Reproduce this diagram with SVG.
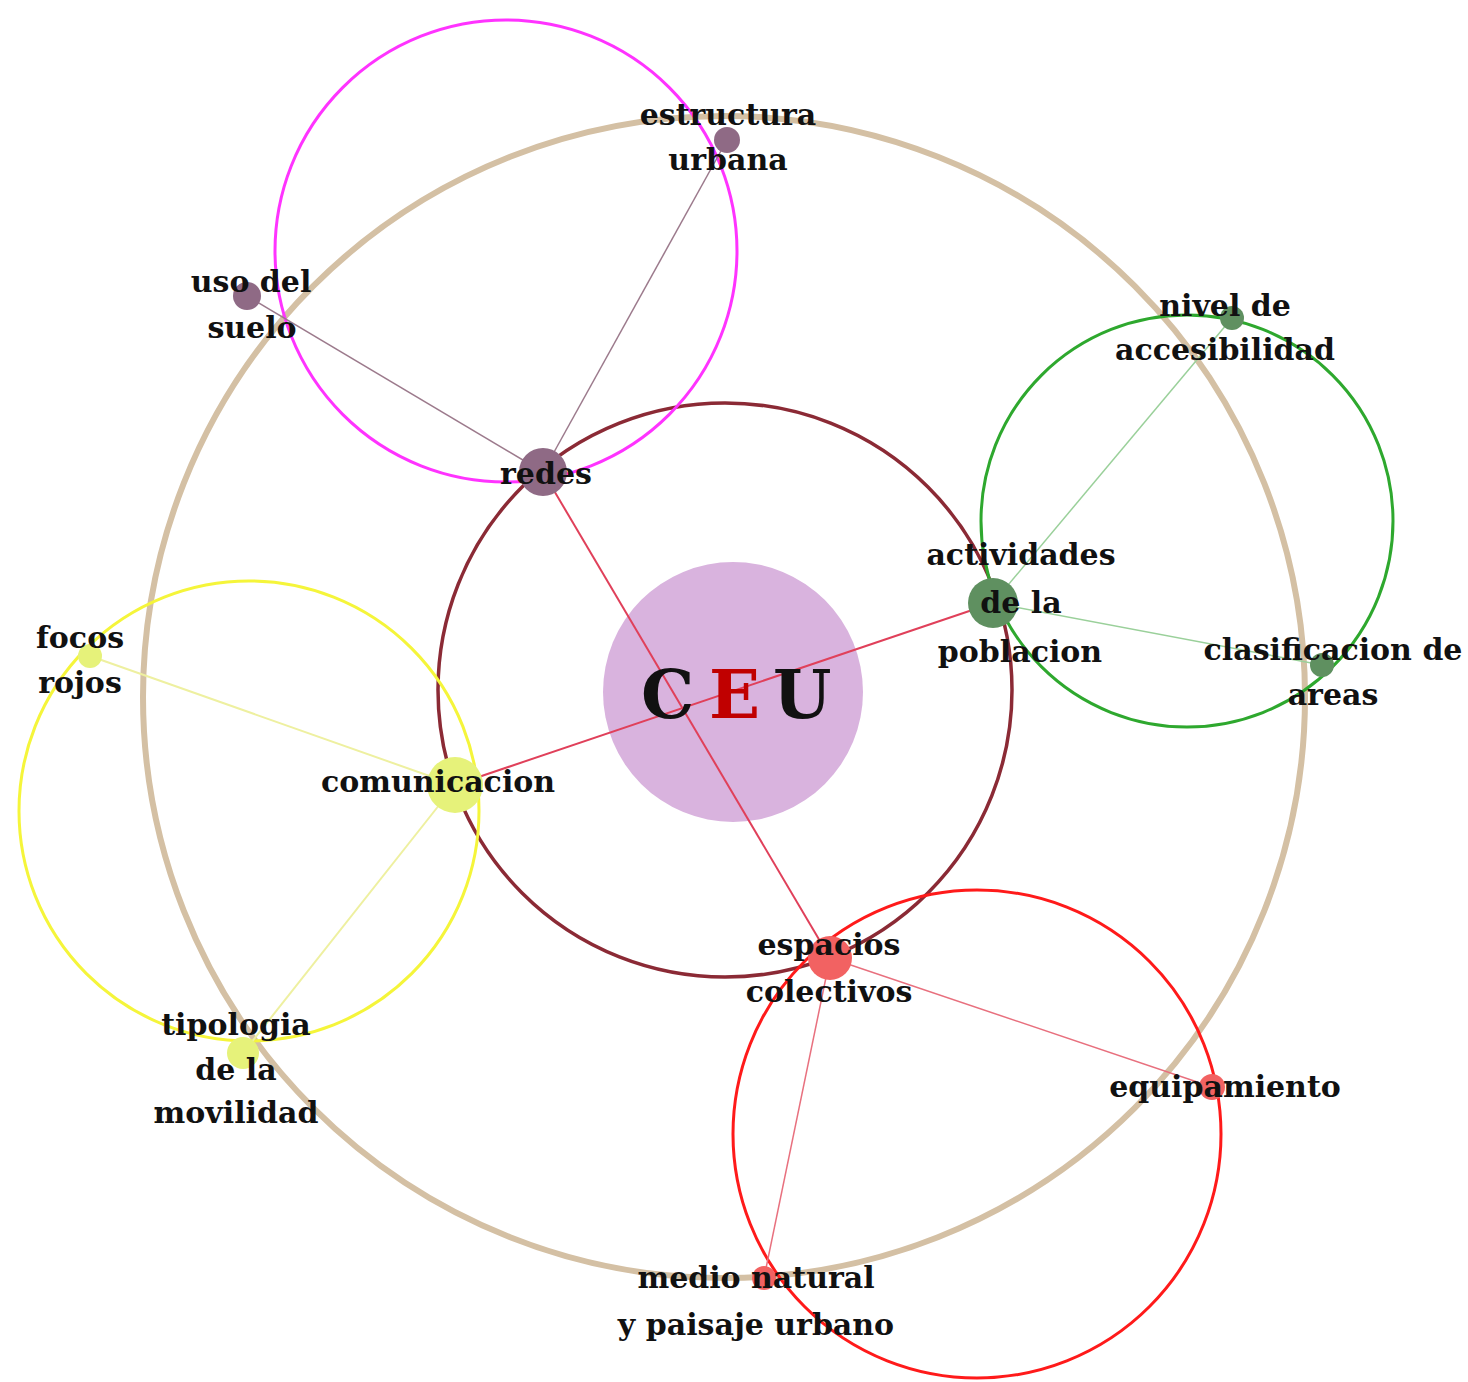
<svg xmlns="http://www.w3.org/2000/svg" width="1468" height="1382" viewBox="0 0 1468 1382">
<style>
.ring{fill:none}
.lbl{font-family:"DejaVu Serif","Liberation Serif",serif;font-weight:bold;font-size:30px;fill:#111;text-anchor:middle}
.ceu{font-family:"DejaVu Serif","Liberation Serif",serif;font-weight:bold;font-size:67px;fill:#111}
.c-main{stroke:#e0405a;stroke-width:2;fill:none}
.c-mauve{stroke:#9c7a8c;stroke-width:1.5;fill:none}
.c-green{stroke:#9ad09a;stroke-width:1.5;fill:none}
.c-yellow{stroke:#eef0a0;stroke-width:2;fill:none}
.c-pink{stroke:#e8707e;stroke-width:1.5;fill:none}
.d-mauve{fill:#8f6a85}
.d-green{fill:#5f9060}
.d-yellow{fill:#e6f27a}
.d-red{fill:#f26262}
</style>
<rect width="1468" height="1382" fill="#ffffff"/>
<g id="rings">
<circle class="ring" cx="724" cy="697" r="581" stroke="#d4c0a4" stroke-width="6"/>
<circle class="ring" cx="725" cy="690" r="287" stroke="#8b2a35" stroke-width="3.5"/>
<circle class="ring" cx="506" cy="251" r="231" stroke="#ff33ff" stroke-width="3"/>
<circle class="ring" cx="1187" cy="521" r="206" stroke="#2ea82e" stroke-width="3"/>
<circle class="ring" cx="249" cy="811" r="230" stroke="#f5f53a" stroke-width="3"/>
<circle class="ring" cx="977" cy="1134" r="244" stroke="#ff1a1a" stroke-width="3"/>
</g>
<g id="ceu-bg">
<circle cx="733" cy="692" r="130" fill="#d9b3de"/>
</g>
<g id="connectors">
<line class="c-main" x1="543" y1="472" x2="830" y2="958"/>
<line class="c-main" x1="455" y1="785" x2="993" y2="603"/>
<line class="c-mauve" x1="543" y1="472" x2="247" y2="296"/>
<line class="c-mauve" x1="543" y1="472" x2="727" y2="140"/>
<line class="c-green" x1="993" y1="603" x2="1232" y2="318"/>
<line class="c-green" x1="993" y1="603" x2="1322" y2="665"/>
<line class="c-yellow" x1="455" y1="785" x2="90" y2="656"/>
<line class="c-yellow" x1="455" y1="785" x2="243" y2="1053"/>
<line class="c-pink" x1="830" y1="958" x2="1212" y2="1087"/>
<line class="c-pink" x1="830" y1="958" x2="764" y2="1278"/>
</g>
<g id="node-ceu">
<text class="ceu" x="641" y="718">C</text>
<text class="ceu" x="709" y="718" style="fill:#c00000">E</text>
<text class="ceu" x="773" y="718">U</text>
</g>
<g id="node-redes">
<circle class="d-mauve" cx="543" cy="472" r="24"/>
<text class="lbl" x="546" y="484">redes</text>
</g>
<g id="node-estructura">
<circle class="d-mauve" cx="727" cy="140" r="13"/>
<text class="lbl" x="728" y="125">estructura</text>
<text class="lbl" x="728" y="170">urbana</text>
</g>
<g id="node-uso">
<circle class="d-mauve" cx="247" cy="296" r="14"/>
<text class="lbl" x="251" y="292">uso del</text>
<text class="lbl" x="252" y="338">suelo</text>
</g>
<g id="node-actividades">
<circle class="d-green" cx="993" cy="603" r="25"/>
<text class="lbl" x="1021" y="565">actividades</text>
<text class="lbl" x="1021" y="613">de la</text>
<text class="lbl" x="1020" y="662">poblacion</text>
</g>
<g id="node-nivel">
<circle class="d-green" cx="1232" cy="318" r="12"/>
<text class="lbl" x="1225" y="316">nivel de</text>
<text class="lbl" x="1225" y="360">accesibilidad</text>
</g>
<g id="node-clasificacion">
<circle class="d-green" cx="1322" cy="665" r="12"/>
<text class="lbl" x="1333" y="660">clasificacion de</text>
<text class="lbl" x="1333" y="705">areas</text>
</g>
<g id="node-comunicacion">
<circle class="d-yellow" cx="455" cy="785" r="28"/>
<text class="lbl" x="438" y="792">comunicacion</text>
</g>
<g id="node-focos">
<circle class="d-yellow" cx="90" cy="656" r="12"/>
<text class="lbl" x="80" y="648">focos</text>
<text class="lbl" x="80" y="693">rojos</text>
</g>
<g id="node-tipologia">
<circle class="d-yellow" cx="243" cy="1053" r="16"/>
<text class="lbl" x="236" y="1035">tipologia</text>
<text class="lbl" x="236" y="1080">de la</text>
<text class="lbl" x="236" y="1123">movilidad</text>
</g>
<g id="node-espacios">
<circle class="d-red" cx="830" cy="958" r="22"/>
<text class="lbl" x="829" y="955">espacios</text>
<text class="lbl" x="829" y="1002">colectivos</text>
</g>
<g id="node-equipamiento">
<circle class="d-red" cx="1212" cy="1087" r="13"/>
<text class="lbl" x="1225" y="1097">equipamiento</text>
</g>
<g id="node-medio">
<circle class="d-red" cx="764" cy="1278" r="12"/>
<text class="lbl" x="756" y="1288">medio natural</text>
<text class="lbl" x="756" y="1335">y paisaje urbano</text>
</g>
</svg>
